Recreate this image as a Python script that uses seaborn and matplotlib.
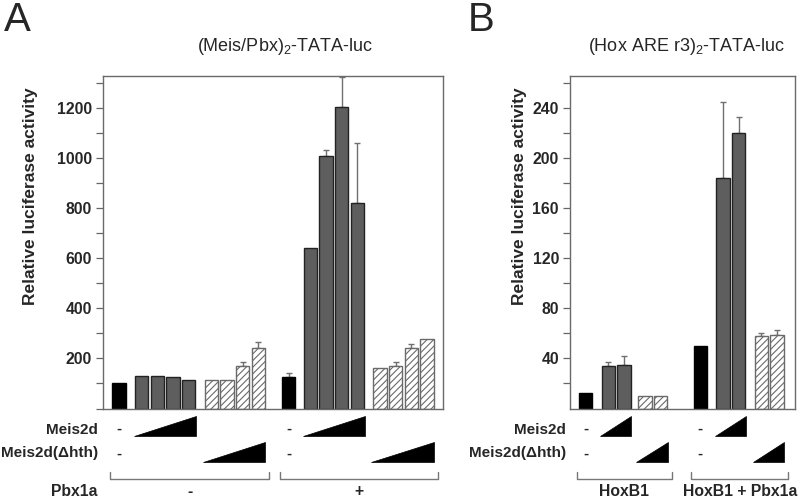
import numpy as np
import pandas as pd
import matplotlib
matplotlib.use("Agg")
import matplotlib.pyplot as plt
import seaborn as sns
from matplotlib.patches import Polygon
from matplotlib.transforms import blended_transform_factory
from matplotlib.ticker import MultipleLocator

# ---------------- data ----------------
kinds_A = ["ctrl", "meis", "meis", "meis", "meis", "dhth", "dhth", "dhth", "dhth",
           "ctrl", "meis", "meis", "meis", "meis", "dhth", "dhth", "dhth", "dhth"]
values_A = [100, 129, 129, 127, 115, 115, 115, 170, 241,
            127, 641, 1009, 1206, 823, 160, 169, 240, 278]
err_A = [0, 0, 0, 0, 0, 0, 0, 15, 24,
         16, 0, 24, 118, 237, 0, 15, 18, 0]
brackets_A = ["-", "+"]

kinds_B = ["ctrl", "meis", "meis", "dhth", "dhth",
           "ctrl", "meis", "meis", "dhth", "dhth"]
values_B = [12, 34, 35, 10, 10, 50, 184, 220, 58, 59]
err_B = [0, 3, 7, 0, 0, 0, 61, 13, 2.5, 4]
brackets_B = ["HoxB1", "HoxB1 + Pbx1a"]

title_A = r"(Meis/Pbx)$_2$-TATA-luc"
title_B = r"(Hox ARE r3)$_2$-TATA-luc"
ylabel = "Relative luciferase activity"
row_labels = ["Meis2d", "Meis2d(\u0394hth)"]

# ---------------- style ----------------
sns.set_theme(style="white")
plt.rcParams["font.family"] = ["Liberation Sans", "DejaVu Sans"]
plt.rcParams["mathtext.fontset"] = "custom"
plt.rcParams["mathtext.rm"] = "Liberation Sans"
plt.rcParams["mathtext.it"] = "Liberation Sans:italic"
plt.rcParams["mathtext.bf"] = "Liberation Sans:bold"
plt.rcParams["hatch.color"] = "#808080"
plt.rcParams["hatch.linewidth"] = 0.8

W, H = 800, 503
fig = plt.figure(figsize=(W / 100, H / 100), dpi=100)

AX_TOP, AX_BOT = 75.7, 408.5
AX_H = AX_BOT - AX_TOP


def fx(px):
    return px / W


def fy(py):
    return 1 - py / H


def yfrac(py):
    return (AX_BOT - py) / AX_H


def build_positions(kinds, gaps):
    pos = [0.0]
    gi = 0
    for i in range(1, len(kinds)):
        if kinds[i] == kinds[i - 1]:
            pos.append(pos[-1] + 1.0)
        else:
            pos.append(pos[-1] + gaps[gi])
            gi += 1
    return pos


palette = {"ctrl": "#000000", "meis": "#5e5e5e", "dhth": "#ffffff"}
edges = {"ctrl": "#000000", "meis": "#222222", "dhth": "#6a6a6a"}
HALF = 0.425


def panel(ax, kinds, values, errs, gaps, xlim, ylim, major, minor, bracket_labels,
          bracket_pad):
    pos = build_positions(kinds, gaps)
    df = pd.DataFrame({"pos": pos, "value": values, "kind": kinds})
    sns.barplot(data=df, x="pos", y="value", hue="kind", palette=palette,
                native_scale=True, dodge=False, width=0.85, errorbar=None,
                legend=False, ax=ax, linewidth=1.0)
    for p in ax.patches:
        cx = p.get_x() + p.get_width() / 2
        i = int(np.argmin([abs(cx - q) for q in pos]))
        k = kinds[i]
        p.set_edgecolor(edges[k])
        p.set_zorder(2)
        if k == "dhth":
            p.set_hatch("/////")
    e = np.array(errs, dtype=float)
    m = e > 0
    ax.errorbar(np.array(pos)[m], np.array(values)[m],
                yerr=[np.zeros(m.sum()), e[m]], fmt="none", ecolor="#707070",
                elinewidth=1.0, capsize=2.5, capthick=1.0, zorder=1)
    ax.set_xlim(*xlim)
    ax.set_ylim(*ylim)
    ax.set_xticks([])
    ax.set_xlabel("")
    ax.set_ylabel(ylabel, fontsize=12.5, fontweight="bold")
    ax.yaxis.set_label_coords(-0.19 if xlim[1] > 15 else -0.191, 0.637)
    ax.yaxis.set_major_locator(MultipleLocator(major))
    ax.yaxis.set_minor_locator(MultipleLocator(minor))
    ax.tick_params(axis="y", which="both", left=True, direction="out", length=5,
                   width=0.9, color="#666666", pad=3)
    ticks = [t for t in ax.get_yticks() if 0 < t <= ylim[1]]
    ax.set_yticks(ticks)
    ax.set_yticklabels([f"{int(v)}" for v in ticks], fontweight="bold", fontsize=11.3)
    ax.set_ylim(*ylim)
    for s in ax.spines.values():
        s.set_color("#6a6a6a")
        s.set_linewidth(1.0)

    tr = blended_transform_factory(ax.transData, ax.transAxes)
    runs = []
    start = 0
    for i in range(1, len(kinds) + 1):
        if i == len(kinds) or kinds[i] != kinds[start]:
            runs.append((kinds[start], start, i - 1))
            start = i
    for k, a, b in runs:
        if k == "ctrl":
            for py in (429, 454):
                ax.text(pos[a], yfrac(py), "-", transform=tr, ha="center", va="center",
                        fontsize=11, fontweight="bold", clip_on=False)
        elif k == "meis":
            x0, x1 = pos[a] - HALF - 0.08, pos[b] + HALF + 0.03
            ax.add_patch(Polygon([(x0, yfrac(435.5)), (x1, yfrac(435.5)), (x1, yfrac(416))],
                                 closed=True, transform=tr, facecolor="black",
                                 edgecolor="black", lw=0.5, clip_on=False))
        else:
            x0, x1 = pos[a] - HALF - 0.12, pos[b] + HALF + 0.03
            ax.add_patch(Polygon([(x0, yfrac(462)), (x1, yfrac(462)), (x1, yfrac(441.7))],
                                 closed=True, transform=tr, facecolor="black",
                                 edgecolor="black", lw=0.5, clip_on=False))
    ctrl_idx = [i for i, k in enumerate(kinds) if k == "ctrl"]
    halves = [(ctrl_idx[0], ctrl_idx[1] - 1), (ctrl_idx[1], len(kinds) - 1)]
    for (a, b), lab in zip(halves, bracket_labels):
        x0, x1 = pos[a] - 0.56, pos[b] + bracket_pad
        yb, yt = yfrac(479.3), yfrac(471.7)
        ax.plot([x0, x0, x1, x1], [yt, yb, yb, yt], transform=tr, color="#777777",
                lw=1.0, clip_on=False)
        ax.text((x0 + x1) / 2, yfrac(491.5), lab, transform=tr, ha="center",
                va="center", fontsize=11.3, fontweight="bold", clip_on=False)
    return pos


# Panel A
axA = fig.add_axes([fx(103), fy(AX_BOT), fx(443 - 103), AX_H / H])
panel(axA, kinds_A, values_A, err_A, [1.45, 1.44, 1.93, 1.40, 1.43],
      (-1.02, 20.68), (0, 1331), 200, 100, brackets_A, 0.7)

# Panel B
axB = fig.add_axes([fx(570), fy(AX_BOT), fx(795 - 570), AX_H / H])
panel(axB, kinds_B, values_B, err_B, [1.44, 1.34, 2.53, 1.45, 1.45],
      (-1.0, 13.36), (0, 266.2), 40, 20, brackets_B, 0.72)
axB.yaxis.set_minor_locator(MultipleLocator(40, offset=20))

# row labels
for xr in (98, 566):
    fig.text(fx(xr), fy(430), row_labels[0], ha="right", va="center",
             fontsize=11, fontweight="bold")
    fig.text(fx(xr), fy(453), row_labels[1], ha="right", va="center",
             fontsize=11, fontweight="bold")
fig.text(fx(98), fy(491.5), "Pbx1a", ha="right", va="center",
         fontsize=11.3, fontweight="bold")

# titles and panel letters
fig.text(fx(285), fy(46), title_A, ha="center", va="center", fontsize=13)
fig.text(fx(687), fy(46), title_B, ha="center", va="center", fontsize=13)
fig.text(fx(4), fy(20), "A", ha="left", va="center", fontsize=29)
fig.text(fx(468), fy(20), "B", ha="left", va="center", fontsize=29)

fig.savefig("out.png", dpi=100)
